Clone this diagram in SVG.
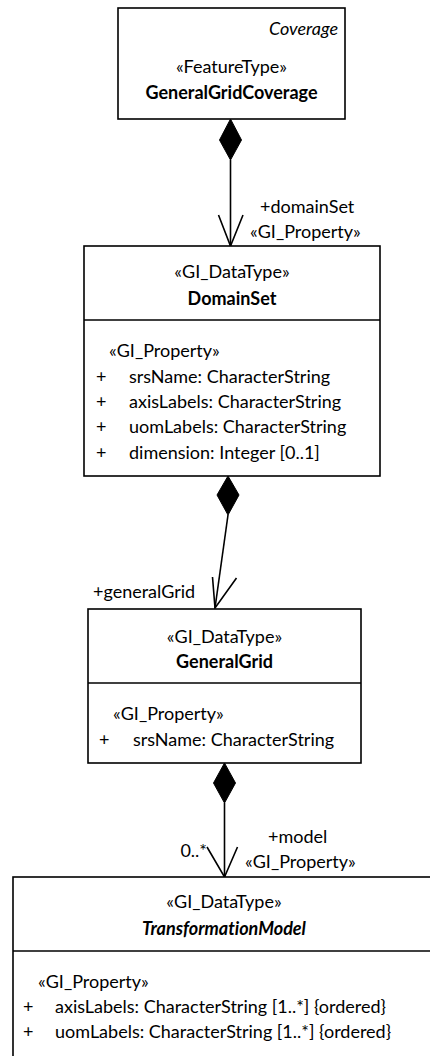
<svg xmlns="http://www.w3.org/2000/svg" width="430" height="1056" viewBox="0 0 430 1056">
  <style>
    text { font-family: Lato, "Open Sans", "Liberation Sans", sans-serif; font-size: 18px; fill: #000; font-variant-ligatures: none; }
    .c { text-anchor: middle; }
    .b { font-weight: bold; }
    .i { font-style: italic; }
    .box { fill: #fff; stroke: #000; stroke-width: 1.6; }
    .div { stroke: #000; stroke-width: 1.6; }
    .edge { fill: none; stroke: #000; stroke-width: 1.6; }
    .diamond { fill: #000; stroke: #000; stroke-width: 1; }
  </style>

  <!-- composition connectors -->
  <g id="connectors">
    <g id="e-domainSet">
      <path class="diamond" d="M230.5,119 L241.5,140 L230.5,160 L219.5,140 Z"/>
      <path class="edge" d="M230.5,160 L230.5,246"/>
      <path class="edge" d="M218.5,215 L230.5,246 L243,215"/>
      <text x="260" y="213">+domainSet</text>
      <text x="250" y="238">«GI_Property»</text>
    </g>
    <g id="e-generalGrid">
      <path class="diamond" d="M228,476 L239,495 L228,515 L217,495 Z"/>
      <path class="edge" d="M228,515 L215,608"/>
      <path class="edge" d="M212.5,577 L215,608 L236.5,578"/>
      <text x="93" y="598">+generalGrid</text>
    </g>
    <g id="e-model">
      <path class="diamond" d="M224.5,763 L235.5,783 L224.5,803 L213.5,783 Z"/>
      <path class="edge" d="M224.5,803 L224.5,877"/>
      <path class="edge" d="M207,847 L224.5,877 L237.5,847"/>
      <text x="207" y="857" text-anchor="end">0..*</text>
      <text x="268" y="843">+model</text>
      <text x="245" y="868">«GI_Property»</text>
    </g>
  </g>

  <g id="GeneralGridCoverage">
    <rect class="box" x="118" y="8" width="227" height="111"/>
    <text x="338" y="35" text-anchor="end" class="i">Coverage</text>
    <text x="231.5" y="73" class="c">«FeatureType»</text>
    <text x="231.5" y="99" class="c b">GeneralGridCoverage</text>
  </g>

  <g id="DomainSet">
    <rect class="box" x="84" y="246" width="296" height="230"/>
    <line class="div" x1="84" y1="320" x2="380" y2="320"/>
    <text x="232" y="278" class="c">«GI_DataType»</text>
    <text x="232" y="305" class="c b">DomainSet</text>
    <text x="109" y="357">«GI_Property»</text>
    <text x="96" y="383">+</text>
    <text x="129" y="383">srsName: CharacterString</text>
    <text x="96" y="408">+</text>
    <text x="129" y="408">axisLabels: CharacterString</text>
    <text x="96" y="433">+</text>
    <text x="129" y="433">uomLabels: CharacterString</text>
    <text x="96" y="459">+</text>
    <text x="129" y="459">dimension: Integer [0..1]</text>
  </g>

  <g id="GeneralGrid">
    <rect class="box" x="88" y="609" width="273" height="154"/>
    <line class="div" x1="88" y1="683" x2="361" y2="683"/>
    <text x="224.5" y="643" class="c">«GI_DataType»</text>
    <text x="224.5" y="668" class="c b">GeneralGrid</text>
    <text x="113" y="720">«GI_Property»</text>
    <text x="99" y="746">+</text>
    <text x="133" y="746">srsName: CharacterString</text>
  </g>

  <g id="TransformationModel">
    <rect class="box" x="13" y="877" width="423" height="200"/>
    <line class="div" x1="13" y1="951" x2="436" y2="951"/>
    <text x="224" y="908" class="c">«GI_DataType»</text>
    <text x="224" y="935" class="c b i">TransformationModel</text>
    <text x="38" y="988">«GI_Property»</text>
    <text x="23" y="1013">+</text>
    <text x="55" y="1013">axisLabels: CharacterString [1..*] {ordered}</text>
    <text x="23" y="1038">+</text>
    <text x="55" y="1038">uomLabels: CharacterString [1..*] {ordered}</text>
  </g>
</svg>
